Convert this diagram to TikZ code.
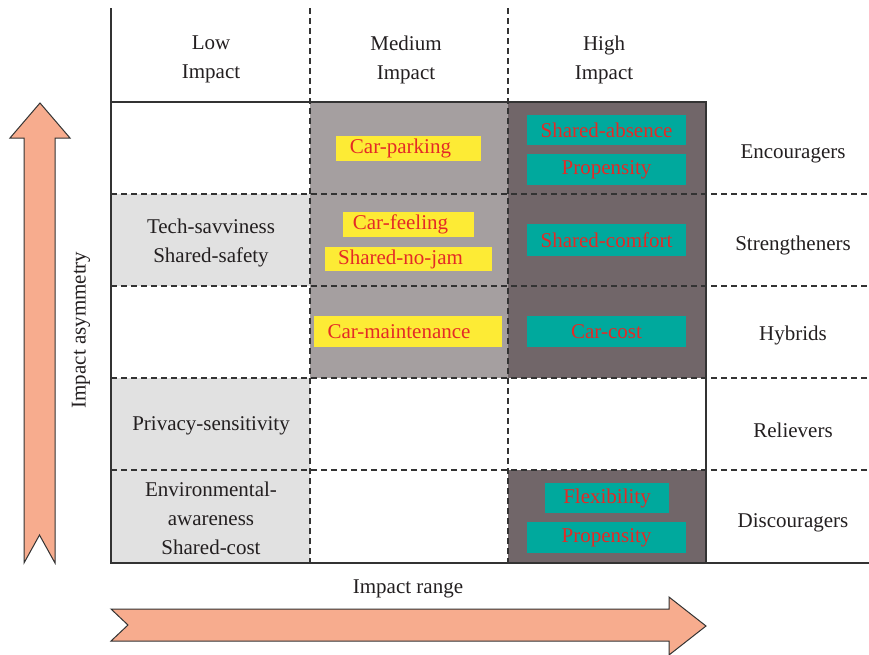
\documentclass[tikz,border=0pt]{standalone}
\usepackage{fontspec}
\setmainfont{Liberation Serif}
\definecolor{txt}{HTML}{231F20}
\definecolor{lgray}{HTML}{E1E1E1}
\definecolor{mgray}{HTML}{A59FA0}
\definecolor{dgray}{HTML}{716669}
\definecolor{ylw}{HTML}{FDEB35}
\definecolor{tealbox}{HTML}{00A99D}
\definecolor{redt}{HTML}{E42A26}
\definecolor{salmon}{HTML}{F7AC8E}
\definecolor{edge}{HTML}{333333}
\begin{document}
\begin{tikzpicture}[x=1pt,y=-1pt,
  every node/.style={font=\fontsize{21}{29}\selectfont, text=txt, inner sep=0pt},
  freetext/.style={yshift=-2.5pt},
  dline/.style={draw=edge, line width=1.2pt, dash pattern=on 6pt off 4pt},
  sline/.style={draw=edge, line width=1.3pt},
  ybox/.style={fill=ylw, text=redt, minimum width=#1},
  tbox/.style={fill=tealbox, text=redt, minimum width=159pt},
  bigarrow/.style={fill=salmon, draw=edge, line width=1pt, line join=miter}]
\useasboundingbox (0,0) rectangle (869,654);
% fills
\fill[lgray] (111,194) rectangle (310,286);
\fill[lgray] (111,378) rectangle (310,563);
\fill[mgray] (310,102) rectangle (508,378);
\fill[dgray] (508,102) rectangle (706,378);
\fill[dgray] (508,470) rectangle (706,563);
% dashed grid
\foreach \yy in {194,286,378,470} \draw[dline] (111,\yy) -- (869,\yy);
\foreach \xx in {310,508} \draw[dline] (\xx,8) -- (\xx,563);
% solid lines
\draw[sline] (111,8) -- (111,563) -- (869,563);
\draw[sline] (111,102) -- (706,102) -- (706,563);
% headers
\node[freetext, align=center] (hlow) at (211,57) {Low\\Impact};
\node[freetext, align=center] (hmed) at (406,57) {Medium\\Impact};
\node[freetext, align=center] (hhigh) at (604,57) {High\\Impact};
% low column texts
\node[freetext, align=center] (tech) at (211,240) {Tech-savviness\\Shared-safety};
\node[freetext] (priv) at (211,423) {Privacy-sensitivity};
\node[freetext, align=center] (env) at (211,516) {Environmental-\\awareness\\Shared-cost};
% yellow boxes
\node[ybox=145pt, minimum height=25pt] (carpark) at (408.5,148.5) {Car-parking\kern16pt};
\node[ybox=131pt, minimum height=25pt] (carfeel) at (408.5,224.5) {Car-feeling\kern16pt};
\node[ybox=167pt, minimum height=24pt] (nojam) at (408.5,259) {Shared-no-jam\kern16pt};
\node[ybox=188pt, minimum height=31pt] (carmaint) at (408,331.5) {Car-maintenance\kern18pt};
% teal boxes
\node[tbox, minimum height=30pt] (absence) at (606.5,130) {Shared-absence};
\node[tbox, minimum height=31pt] (prop1) at (606.5,169.5) {Propensity};
\node[tbox, minimum height=32pt] (comfort) at (606.5,240) {Shared-comfort};
\node[tbox, minimum height=31pt] (carcost) at (606.5,331.5) {Car-cost};
\node[tbox, minimum width=124pt, minimum height=30pt] (flex) at (607,498) {Flexibility};
\node[tbox, minimum height=31pt] (prop2) at (606.5,537.5) {Propensity};
% right labels
\node[freetext] (enc) at (793,151) {Encouragers};
\node[freetext] (str) at (793,243) {Strengtheners};
\node[freetext] (hyb) at (793,333) {Hybrids};
\node[freetext] (rel) at (793,428) {Relievers};
\node[freetext] (dis) at (793,520) {Discouragers};
% arrows
\draw[bigarrow] (24,563) -- (24,138) -- (10,138) -- (40,103) -- (70,138) -- (55,138) -- (55,563) -- (39.5,535) -- cycle;
\draw[bigarrow] (111,609) -- (669,609) -- (669,597) -- (706,626) -- (669,655) -- (669,641) -- (111,641) -- (128,625) -- cycle;
\node[rotate=90] (asym) at (81,330) {Impact asymmetry};
\node[freetext] (range) at (408,586) {Impact range};
\end{tikzpicture}
\end{document}
